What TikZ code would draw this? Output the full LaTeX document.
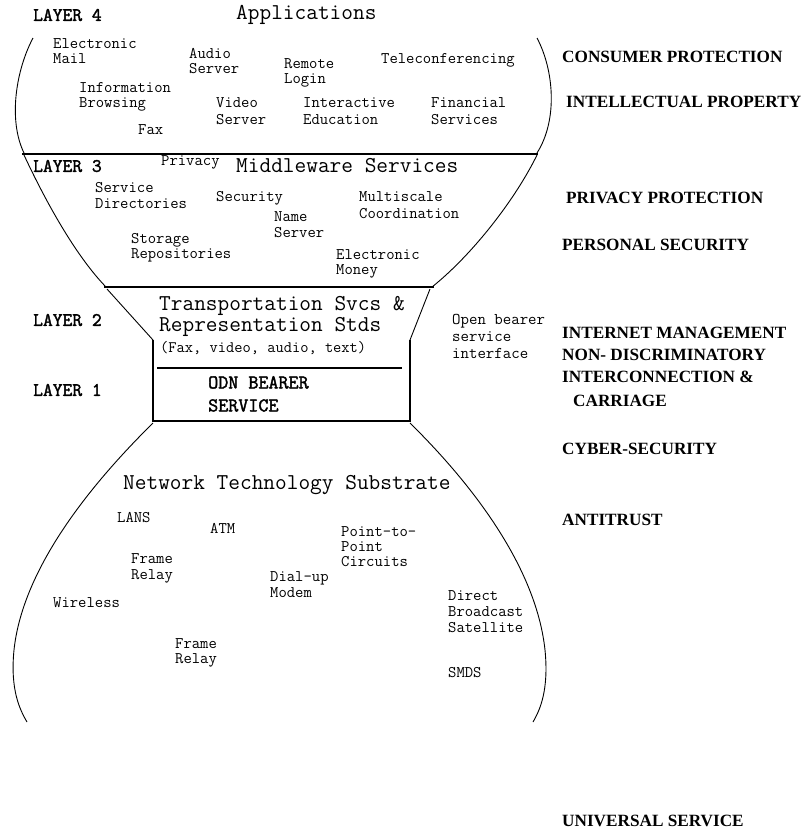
\documentclass[tikz,border=0pt]{standalone}
\usepackage{fontspec}
\setmainfont{Liberation Serif}
\newfontfamily\ttboldfont{Latin Modern Mono}[FakeBold=2]
\begin{document}
\begin{tikzpicture}[x=1pt,y=-1pt,
  sm/.style={font=\ttfamily\fontsize{16.2}{15}\selectfont, inner sep=0pt, align=left, anchor=north west},
  big/.style={font=\ttfamily\fontsize{22.7}{21}\selectfont, inner sep=0pt, align=left, anchor=north west},
  lay/.style={font=\ttboldfont\fontsize{19}{18}\selectfont, inner sep=0pt, anchor=west},
  pol/.style={font=\rmfamily\bfseries\fontsize{17.2}{22}\selectfont, inner sep=0pt, align=left, anchor=west},
  thin/.style={line width=0.9pt},
  thick2/.style={line width=2.4pt}]
\useasboundingbox (0,0) rectangle (806,831);
% ---- outline ----
\draw[thin] (33,38) .. controls (16,70) and (8,120) .. (24,153);
\draw[thin] (537,38) .. controls (554,70) and (558,120) .. (537,153);
\draw[thick2] (22,154) -- (538,154);
\draw[thin] (24,155) .. controls (45,200) and (75,255) .. (106,287);
\draw[thin] (537,155) .. controls (515,200) and (472,255) .. (432,287);
\draw[thick2] (104,287) -- (434,287);
\draw[thin] (107,289) -- (153,340);
\draw[thin] (430,289) -- (410,340);
\draw[line width=2pt] (153,340) -- (153,421) -- (410,421) -- (410,340);
\draw[line width=2pt] (157,368) -- (402,368);
\draw[thin] (153,423) .. controls (80,495) and (22,575) .. (14,650) .. controls (10,690) and (20,710) .. (27,722);
\draw[thin] (410,423) .. controls (483,495) and (537,575) .. (545,650) .. controls (549,690) and (540,710) .. (533,722);
% ---- layer labels ----
\node[lay] (l4) at (33,15) {LAYER 4};
\node[lay] (l3) at (33,166) {LAYER 3};
\node[lay] (l2) at (33,320) {LAYER 2};
\node[lay] (l1) at (33,390) {LAYER 1};
% ---- layer 4 ----
\node[big, anchor=west] (app) at (236,15) {Applications};
\node[sm] (email) at (53,38) {Electronic\\Mail};
\node[sm] (audio) at (189,48) {Audio\\Server};
\node[sm] (remote) at (284,58) {Remote\\Login};
\node[sm] (tele) at (381,53) {Teleconferencing};
\node[sm] (info) at (79,82) {Information\\Browsing};
\node[sm, font=\ttfamily\fontsize{16.2}{17}\selectfont] (video) at (216,97) {Video\\Server};
\node[sm, font=\ttfamily\fontsize{16.2}{17}\selectfont] (edu) at (303,97) {Interactive\\Education};
\node[sm, font=\ttfamily\fontsize{16.2}{17}\selectfont] (fin) at (431,97) {Financial\\Services};
\node[sm] (fax) at (138,124) {Fax};
% ---- layer 3 ----
\node[sm, anchor=west] (priv) at (161,162) {Privacy};
\node[big, anchor=west] (mid) at (236,166) {Middleware Services};
\node[sm, font=\ttfamily\fontsize{16.2}{16}\selectfont] (sdir) at (95,182) {Service\\Directories};
\node[sm, anchor=west] (sec) at (216,198) {Security};
\node[sm, font=\ttfamily\fontsize{16.2}{16}\selectfont] (name) at (274,211) {Name\\Server};
\node[sm, font=\ttfamily\fontsize{16.2}{17}\selectfont] (multi) at (359,191) {Multiscale\\Coordination};
\node[sm] (stor) at (131,233) {Storage\\Repositories};
\node[sm] (money) at (336,249) {Electronic\\Money};
% ---- layer 2 / 1 ----
\node[big] (trans) at (159,296) {Transportation Svcs \&\\Representation Stds};
\node[sm, font=\ttfamily\fontsize{16}{14}\selectfont, anchor=west] (fmt) at (160,348) {(Fax, video, audio, text)};
\node[big, font=\ttboldfont\fontsize{19.5}{23}\selectfont] (odn) at (208,376) {ODN BEARER\\SERVICE};
\node[sm, font=\ttfamily\fontsize{16.4}{17}\selectfont] (obsi) at (452,314) {Open bearer\\service\\interface};
% ---- network substrate ----
\node[big, anchor=west] (net) at (123,485) {Network Technology Substrate};
\node[sm, anchor=west] (lans) at (117,518) {LANS};
\node[sm, anchor=west] (atm) at (210,528) {ATM};
\node[sm] (p2p) at (341,526) {Point-to-\\Point\\Circuits};
\node[sm, font=\ttfamily\fontsize{16.2}{16}\selectfont] (fr1) at (131,553) {Frame\\Relay};
\node[sm, font=\ttfamily\fontsize{16.2}{16}\selectfont] (dial) at (270,571) {Dial-up\\Modem};
\node[sm, anchor=west] (wire) at (53,603) {Wireless};
\node[sm, font=\ttfamily\fontsize{16.2}{16}\selectfont] (dbs) at (448,590) {Direct\\Broadcast\\Satellite};
\node[sm] (fr2) at (175,638) {Frame\\Relay};
\node[sm, anchor=west] (smds) at (448,673) {SMDS};
% ---- policy column ----
\node[pol] (p1) at (562,57) {CONSUMER PROTECTION};
\node[pol] (p2) at (566,102) {INTELLECTUAL PROPERTY};
\node[pol] (p3) at (566,198) {PRIVACY PROTECTION};
\node[pol] (p4) at (562,245) {PERSONAL SECURITY};
\node[pol] (p5) at (562,333) {INTERNET MANAGEMENT};
\node[pol] (p6) at (562,355) {NON- DISCRIMINATORY};
\node[pol] (p7) at (562,377) {INTERCONNECTION \&};
\node[pol] (p8) at (573,401) {CARRIAGE};
\node[pol] (p9) at (562,449) {CYBER-SECURITY};
\node[pol] (p10) at (562,520) {ANTITRUST};
\node[pol] (p11) at (562,821) {UNIVERSAL SERVICE};
\end{tikzpicture}
\end{document}
